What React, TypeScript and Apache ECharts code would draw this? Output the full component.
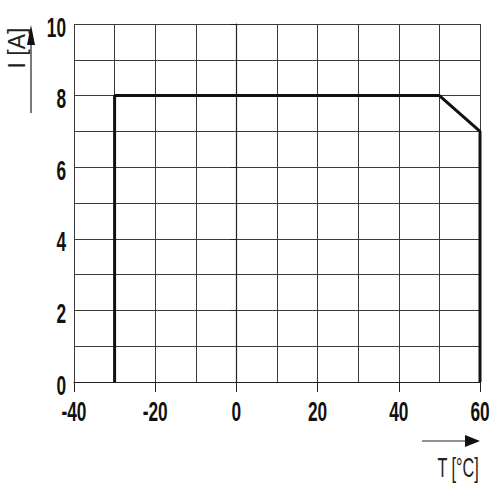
import React, { useEffect, useRef } from "react";
import * as echarts from "echarts";

const temps = [-30, -30, 50, 60, 60];
const currents = [0, 8, 8, 7, 0];
const xTicks = [-40, -20, 0, 20, 40, 60];
const yTicks = [0, 2, 4, 6, 8, 10];
const xTitle = "T [°C]";
const yTitle = "I [A]";

const FONT = "'Liberation Sans', Arial, sans-serif";

export default function App() {
  const ref = useRef<HTMLDivElement>(null);
  useEffect(() => {
    if (!ref.current) return;
    const chart = echarts.init(ref.current, undefined, { renderer: "svg" });
    const gridLine = { show: true, lineStyle: { color: "#3a3a3a", width: 1 } };
    chart.setOption({
      animation: false,
      backgroundColor: "#ffffff",
      grid: { left: 74, right: 20, top: 24, bottom: 118, containLabel: false },
      xAxis: {
        type: "value",
        min: -40,
        max: 60,
        interval: 20,
        axisLine: { show: true, lineStyle: { color: "#222", width: 1.2 } },
        axisTick: { show: true, length: 10, lineStyle: { color: "#222", width: 1 } },
        axisLabel: { show: false },
        splitLine: gridLine,
        minorTick: { show: false, splitNumber: 2 },
        minorSplitLine: gridLine,
      },
      yAxis: {
        type: "value",
        min: 0,
        max: 10,
        interval: 2,
        axisLine: { show: true, lineStyle: { color: "#222", width: 1.2 } },
        axisTick: { show: true, length: 6, lineStyle: { color: "#222", width: 1 } },
        axisLabel: { show: false },
        splitLine: gridLine,
        minorTick: { show: false, splitNumber: 2 },
        minorSplitLine: gridLine,
      },
      series: [
        {
          type: "line",
          data: temps.map((t, i) => [t, currents[i]]),
          symbol: "none",
          lineStyle: { color: "#111", width: 3 },
        },
      ],
    });

    const labelStyle = {
      fontSize: 27,
      fontWeight: "bold",
      fontFamily: FONT,
      fill: "#111",
    };
    const xLabels = xTicks.map((v) => {
      const p = chart.convertToPixel({ gridIndex: 0 }, [v, 0]) as number[];
      return {
        type: "text",
        x: p[0],
        y: p[1] + 29,
        scaleX: 0.64,
        style: { ...labelStyle, text: String(v), align: "center", verticalAlign: "middle" },
      };
    });
    const yLabels = yTicks.map((v) => {
      const p = chart.convertToPixel({ gridIndex: 0 }, [-40, v]) as number[];
      return {
        type: "text",
        x: p[0] - 8,
        y: p[1] + 3,
        scaleX: 0.64,
        style: { ...labelStyle, text: String(v), align: "right", verticalAlign: "middle" },
      };
    });

    chart.setOption({
      graphic: [
        ...xLabels,
        ...yLabels,
        {
          type: "text",
          x: 17,
          y: 48,
          rotation: Math.PI / 2,
          style: {
            text: yTitle,
            fontSize: 23,
            fontFamily: FONT,
            fill: "#222",
            align: "center",
            verticalAlign: "middle",
          },
        },
        {
          type: "line",
          shape: { x1: 31, y1: 113, x2: 31, y2: 40 },
          style: { stroke: "#222", lineWidth: 1.2 },
        },
        {
          type: "polygon",
          shape: { points: [[31, 25], [27, 45], [35, 45]] },
          style: { fill: "#111" },
        },
        {
          type: "line",
          shape: { x1: 422, y1: 441, x2: 468, y2: 441 },
          style: { stroke: "#222", lineWidth: 1.2 },
        },
        {
          type: "polygon",
          shape: { points: [[480, 441], [465, 435], [465, 447]] },
          style: { fill: "#111" },
        },
        {
          type: "text",
          x: 458,
          y: 468,
          scaleX: 0.6,
          style: {
            text: xTitle,
            fontSize: 27,
            fontFamily: FONT,
            fill: "#222",
            align: "center",
            verticalAlign: "middle",
          },
        },
      ],
    });
    return () => chart.dispose();
  }, []);
  return <div ref={ref} style={{ width: 500, height: 500, position: "absolute", left: 0, top: 0 }} />;
}
